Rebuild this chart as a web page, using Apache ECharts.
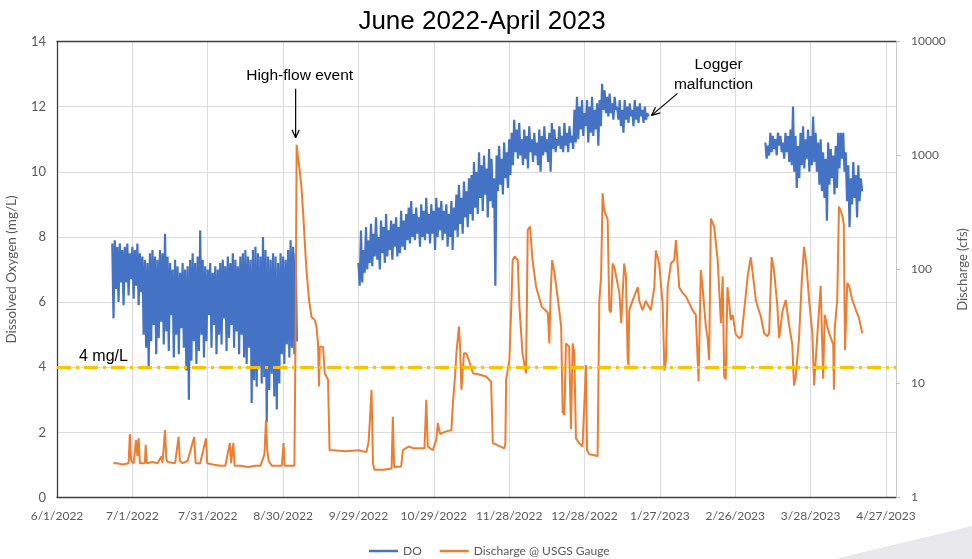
<!DOCTYPE html>
<html>
<head>
<meta charset="utf-8">
<script src="https://cdn.jsdelivr.net/npm/echarts/dist/echarts.min.js"></script>
<style>
  html, body { margin: 0; padding: 0; background: #fff; }
  #chart { width: 972px; height: 559px; }
</style>
</head>
<body>
<div id="chart"></div>
<script>
// Day 0 of the x axis is 6/1/2022; every x value below is a day offset from it.
const START_UTC = Date.UTC(2022, 5, 1);
const X_MAX_DAY = 334;
const X_TICK_DAYS = 30;

const doTicks = { min: 0, max: 14, step: 2 };
const flowTicks = { min: 1, max: 10000 };
const criterionDO = 4;

// Dissolved oxygen logger runs: daily high / low pairs (mg/L), half a day apart.
const doRunStartDays = [22, 120, 282];
const doRun1 = [
  7.8,5.5, 7.9,6.4, 7.7,6.0, 7.8,6.6, 7.6,5.9, 7.7,6.6, 7.8,6.2, 7.5,6.7,
  7.7,6.1, 7.6,6.5, 7.8,5.9, 7.5,6.3, 7.4,5.0, 7.3,4.6, 7.2,4.0, 7.5,4.8,
  7.6,5.3, 7.4,4.4, 7.3,4.9, 7.6,5.4, 7.5,4.7, 8.1,5.1, 7.4,4.5, 7.2,5.6,
  7.0,4.3, 7.3,5.0, 7.1,4.4, 6.9,5.2, 7.2,4.6, 7.0,3.9, 7.1,3.0, 7.3,4.2,
  7.5,4.8, 7.2,4.1, 7.4,4.5, 8.2,5.0, 7.3,4.3, 7.1,4.8, 7.0,5.6, 7.2,4.6,
  6.9,5.3, 7.1,4.4, 7.0,5.0, 7.2,4.7, 7.3,5.5, 7.1,4.5, 7.4,4.9, 7.2,5.3,
  7.5,4.6, 7.3,5.1, 7.1,4.4, 7.4,5.0, 7.5,4.3, 7.6,4.1, 7.4,4.6, 7.3,2.9,
  7.6,3.6, 7.7,3.4, 7.5,4.0, 7.4,3.5, 8.0,3.7, 7.6,2.3, 7.4,3.3, 7.3,3.8,
  7.5,3.1, 7.4,2.7, 7.2,3.5, 7.5,4.4, 7.4,4.1, 7.3,4.7, 7.6,4.3, 7.9,4.6,
  7.7,4.4, 7.5,4.8
];
const doRun2 = [
  7.2,6.5, 8.2,6.6, 7.6,6.9, 8.3,7.0, 7.9,7.2, 8.4,7.1, 8.1,7.4, 8.6,7.3,
  8.0,7.0, 8.5,7.5, 8.3,7.2, 8.7,7.4, 8.2,7.6, 8.5,7.3, 8.4,7.7, 8.6,7.4,
  8.3,7.5, 8.8,7.7, 8.5,7.6, 8.7,7.9, 8.9,7.8, 9.1,8.0, 8.7,7.9, 8.9,8.1,
  8.6,7.7, 9.0,8.0, 8.8,7.9, 9.2,8.1, 8.7,7.8, 9.0,8.1, 8.8,7.6, 9.2,8.0,
  8.9,8.2, 9.1,7.9, 8.8,8.1, 9.0,7.7, 8.7,8.0, 9.1,7.6, 8.9,8.2, 9.3,8.0,
  9.6,8.4, 9.2,8.1, 9.7,8.6, 9.4,8.3, 9.8,8.7, 9.9,8.5, 10.3,8.9, 10.0,8.7,
  10.6,9.2, 10.2,8.8, 10.5,9.3, 10.1,8.6, 10.7,9.1, 10.4,8.9, 9.8,6.5, 10.5,9.4,
  10.8,9.6, 10.4,9.3, 10.9,9.8, 10.6,9.5, 11.0,9.9, 11.2,10.2, 11.6,10.6, 11.3,10.4,
  11.5,10.5, 11.0,10.2, 11.3,10.4, 11.1,10.1, 11.4,10.6, 11.0,10.3, 11.2,10.5, 10.9,10.2,
  11.3,10.0, 11.1,10.5, 11.4,10.6, 11.0,10.3, 11.2,10.0, 11.5,10.7, 11.3,10.6, 11.0,10.8,
  11.4,10.7, 11.1,10.6, 11.5,10.8, 11.2,10.6, 11.4,10.9, 11.1,10.7, 11.9,10.9, 12.3,11.0,
  12.0,11.3, 12.2,11.1, 11.8,11.4, 12.2,10.9, 12.0,11.2, 12.3,11.1, 11.9,11.3, 12.1,10.8,
  12.2,11.4, 12.7,11.9, 12.5,11.8, 12.3,11.7, 12.4,11.8, 12.1,11.6, 12.3,11.9, 12.0,11.6,
  12.2,11.4, 11.9,11.2, 12.2,11.6, 12.0,11.5, 12.1,11.7, 11.9,11.4, 12.2,11.6, 12.0,11.5,
  12.1,11.7, 11.9,11.5, 12.0,11.6, 11.8,11.7
];
const doRun3 = [
  10.9,10.4, 10.8,10.5, 11.2,10.6, 11.1,10.7, 11.0,10.5, 11.2,10.8, 11.1,10.6, 10.9,10.4,
  11.2,10.6, 11.1,10.3, 11.3,10.2, 12.0,10.0, 11.1,9.5, 10.8,9.8, 11.2,10.2, 11.4,10.1,
  11.0,10.4, 11.3,10.0, 11.1,10.2, 11.7,10.3, 11.2,10.0, 10.9,9.6, 11.0,9.4, 10.6,9.2,
  10.4,8.5, 10.9,9.6, 10.7,9.8, 10.5,9.3, 10.8,9.5, 11.2,10.1, 11.2,10.4, 11.2,10.0,
  10.6,9.1, 10.2,8.3, 9.8,9.0, 10.3,9.2, 9.9,8.6, 10.2,9.1, 9.8,9.4
];

// USGS gauge discharge (cfs) at irregular day offsets.
const flowDays = [
  22.4, 24, 26, 28.5, 29.0, 29.5, 30.5, 31.5, 32, 32.5, 33, 35, 35.3, 35.8, 38, 40, 41.6, 42,
  43, 43.5, 44, 47, 48.4, 48.9, 50, 52, 54.6, 55.2, 57, 59.3, 59.8, 62, 65, 67, 68.8, 69.3,
  70.2, 70.7, 73, 76, 79, 81, 82.6, 83.2, 83.7, 84.3, 85.5, 87, 89.5, 90.2, 90.6, 93, 94.5,
  95.0, 95.4, 96.0, 96.6, 97.3, 98.0, 98.6, 99.3, 100.3, 101.3, 102.6, 103.3, 103.9, 104.3,
  104.6, 105.9, 106.6, 107.9, 108.5, 110, 115, 120, 123.1, 124.0, 124.5, 125.2, 125.8, 126.4,
  130, 133.2, 133.7, 134.2, 137, 137.7, 140, 142, 145, 146.3, 147.0, 147.6, 149.6, 151.0,
  151.6, 152.5, 153.6, 155, 157.0, 157.6, 158.5, 159.0, 160.0, 160.5, 161.0, 161.5, 162.0,
  162.9, 164, 165.6, 168, 170.8, 172.8, 173.5, 175, 178.1, 178.5, 178.8, 180.1, 181.0, 181.4,
  182.2, 183.4, 184.1, 185.3, 186.7, 187.1, 187.4, 188.3, 189.3, 190.7, 193, 195.4,
  196.0, 196.5, 197.1, 198.0, 199.4, 200.7, 201.3, 202.0, 202.6, 203.9, 204.6, 205.3, 205.9,
  206.6, 207.9, 209.2, 210.6, 211.0, 211.9, 214, 215.2, 215.9, 216.6, 217.2, 217.8, 219.2,
  219.9, 220.5, 221.2, 221.9, 222.6, 223.9, 224.6, 225.8, 226.5, 227.2, 227.5, 227.8, 229.1,
  231.2, 231.8, 233.1, 234.4, 236.4, 237.8, 238.4, 239.7, 241.1, 241.8, 242.4, 243.1, 244.4,
  245.7, 246.4, 247.7, 249.1, 250.4, 253.0, 254.3, 255.4, 256.3, 257.0, 258.3, 259.0, 259.6,
  260.3, 261.6, 263.0, 264.3, 265.0, 265.6, 266.2, 266.9, 267.5, 268.2, 269.0, 270.2, 270.9,
  271.6, 272.5, 274.2, 275, 276.2, 276.9, 278.2, 279.2, 280.2, 281.5, 282.8, 283.5, 284.5,
  285.4, 286.7, 287.5, 288.8, 290.1, 291.4, 292.7, 293.4, 294.0, 295.4, 296.5, 297.4, 298.4,
  299.4, 300.7, 301.4, 302.6, 304.0, 304.6, 305.0, 305.6, 306.6, 307.4, 309.0, 309.3, 309.6,
  310.6, 311.3, 312.6, 313.2, 313.7, 314.6, 315.3, 316.6, 317.9, 319.2, 320.6
];
const flowCfs = [
  2.0, 2.0, 1.95, 2.0, 3.6, 2.1, 2.0, 3.2, 2.3, 3.3, 2.0, 2.0, 2.9, 2.0, 2.05, 2.0, 2.3, 2.0,
  3.9, 2.2, 2.05, 2.0, 3.4, 2.1, 2.0, 2.1, 3.4, 2.0, 2.0, 3.3, 2.0, 1.95, 1.9, 1.9, 3.0, 2.0,
  3.0, 1.9, 1.9, 1.85, 1.9, 1.9, 2.4, 4.8, 2.6, 2.1, 1.9, 1.9, 1.9, 3.0, 1.9, 1.9, 1.9,
  30, 1240, 950, 746, 533, 311, 180, 99, 55, 38.5, 36, 31.6, 22.5, 9.4,
  21, 21, 12.3, 10.8, 2.6, 2.6, 2.55, 2.6, 2.5, 3.0, 4.5, 8.8, 2.0, 1.75,
  1.75, 1.8, 5.1, 1.85, 1.87, 2.6, 2.8, 2.7, 2.7, 2.7, 7.2, 2.8, 2.6, 3.2,
  4.5, 3.6, 3.7, 3.8, 3.9, 6.7, 12, 18.4, 31.6, 20, 8.8, 8.5, 18.4,
  18.4, 16, 12.3, 12, 11.5, 10.4, 3.0, 2.9, 2.7, 3.0, 10.8, 16.1, 60, 121,
  130, 121, 47, 18.4, 12.3, 60, 222, 238, 121, 71, 47, 42,
  22.5, 60, 121, 95, 55, 31.6, 5.6, 5.3, 22.5, 21, 4.0, 22.5, 19,
  3.3, 3.0, 2.8, 14.5, 2.6, 2.4, 2.35, 2.3, 53, 87, 466, 333, 275,
  44, 42, 113, 105, 87, 62, 34, 113, 87, 16.1, 14.5, 44, 53,
  70, 53, 44, 53, 44, 70, 147, 113, 50, 13, 16, 70, 113,
  121, 181, 70, 62, 58, 44, 40, 10.5, 99, 70, 31.6, 25, 16.1,
  280, 238, 121, 34, 87, 11.5, 10.9, 70, 54, 36, 40, 27, 26,
  25, 26, 60, 90, 128, 95, 54, 45, 38.7, 27.6, 26, 27.6, 128,
  100, 50, 25, 43, 54, 33, 22, 9.6, 11, 25, 80, 158, 106,
  54, 27.6, 9.6, 25, 72, 72, 11, 40, 32, 27.6, 22, 8.8, 30,
  54, 356, 300, 250, 19.7, 76, 72, 54, 45, 38, 27.6
];

// ---- assemble series data ----
const doData = [];
[doRun1, doRun2, doRun3].forEach((run, r) => {
  run.forEach((v, i) => doData.push([doRunStartDays[r] + i * 0.5, v]));
  doData.push([doRunStartDays[r] + run.length * 0.5, '-']);
});
const flowData = flowDays.map((d, i) => [d, flowCfs[i]]);

function dayLabel(v) {
  if (Math.abs(v % X_TICK_DAYS) > 1e-6) return '';
  const dt = new Date(START_UTC + v * 86400000);
  return (dt.getUTCMonth() + 1) + '/' + dt.getUTCDate() + '/' + dt.getUTCFullYear();
}

const AXIS_FONT = 'Lato, "Open Sans", sans-serif';
const ANNOT_FONT = '"Liberation Sans", Arial, sans-serif';
const axisGrey = '#595959';
const gridGrey = '#dcdcdc';

const chart = echarts.init(document.getElementById('chart'), null, { renderer: 'canvas' });

chart.setOption({
  animation: false,
  backgroundColor: '#ffffff',
  title: {
    text: 'June 2022-April 2023',
    left: 477, top: 4, textAlign: 'center',
    textStyle: { fontFamily: ANNOT_FONT, fontSize: 26, fontWeight: 'normal', color: '#000' }
  },
  grid: { left: 57, right: 76, top: 41.5, bottom: 61.5, containLabel: false, outerBoundsMode: 'none' },
  legend: {
    data: ['DO', 'Discharge @ USGS Gauge'],
    left: 364, top: 540,
    icon: 'rect', itemWidth: 29, itemHeight: 2.5, itemGap: 18,
    textStyle: { fontFamily: AXIS_FONT, fontSize: 12, color: axisGrey }
  },
  xAxis: [{
    type: 'value', min: 0, max: X_MAX_DAY, interval: X_TICK_DAYS,
    axisLine: { show: true, onZero: false, lineStyle: { color: '#404040', width: 1.3 } },
    axisTick: { show: false },
    splitLine: { show: true, lineStyle: { color: gridGrey, width: 1 } },
    axisLabel: {
      formatter: dayLabel, showMaxLabel: false, margin: 13,
      fontFamily: AXIS_FONT, fontSize: 12, color: axisGrey
    }
  }, {
    // plain top border of the plot
    type: 'value', position: 'top', min: 0, max: X_MAX_DAY, interval: X_TICK_DAYS,
    axisLine: { show: true, onZero: false, lineStyle: { color: '#404040', width: 1.3 } },
    axisTick: { show: false }, axisLabel: { show: false }, splitLine: { show: false }
  }],
  yAxis: [{
    type: 'value', position: 'left',
    min: doTicks.min, max: doTicks.max, interval: doTicks.step,
    name: 'Dissolved Oxygen (mg/L)', nameLocation: 'middle', nameGap: 38, nameRotate: 90,
    nameTextStyle: { fontFamily: AXIS_FONT, fontSize: 13.5, color: axisGrey },
    axisLine: { show: true, onZero: false, lineStyle: { color: '#404040', width: 1.3 } },
    axisTick: { show: false },
    splitLine: { show: true, lineStyle: { color: gridGrey, width: 1 } },
    axisLabel: { margin: 11, fontFamily: AXIS_FONT, fontSize: 13, color: axisGrey }
  }, {
    type: 'log', logBase: 10, position: 'right',
    min: flowTicks.min, max: flowTicks.max,
    name: 'Discharge (cfs)', nameLocation: 'middle', nameGap: 60, nameRotate: 90,
    nameTextStyle: { fontFamily: AXIS_FONT, fontSize: 13, color: axisGrey },
    axisLine: { show: true, onZero: false, lineStyle: { color: '#c8c8c8', width: 1 } },
    axisTick: { show: true, inside: false, length: 4, lineStyle: { color: '#bdbdbd' } },
    minorTick: { show: false },
    splitLine: { show: false },
    axisLabel: {
      margin: 15, fontFamily: AXIS_FONT, fontSize: 12, color: axisGrey,
      formatter: v => String(Math.round(v))
    }
  }],
  series: [{
    name: 'DO', type: 'line', xAxisIndex: 0, yAxisIndex: 0,
    data: doData, symbol: 'none', showSymbol: false, connectNulls: false,
    lineStyle: { color: '#4472C4', width: 2.2 }, itemStyle: { color: '#4472C4' },
    z: 2
  }, {
    name: 'Discharge @ USGS Gauge', type: 'line', xAxisIndex: 0, yAxisIndex: 1,
    data: flowData, symbol: 'none', showSymbol: false,
    lineStyle: { color: '#ED7D31', width: 2 }, itemStyle: { color: '#ED7D31' },
    z: 3
  }, {
    name: 'criterion', type: 'line', xAxisIndex: 0, yAxisIndex: 0, data: [],
    z: 4,
    markLine: {
      silent: true, symbol: ['none', 'none'],
      lineStyle: { color: '#FFC000', width: 3, type: [14, 5, 3, 5] },
      label: {
        show: true, position: 'insideStartTop', formatter: criterionDO + ' mg/L',
        fontFamily: ANNOT_FONT, fontSize: 16, color: '#000', distance: [22, 3]
      },
      data: [{ yAxis: criterionDO }]
    }
  }]
});

// ---- annotations anchored to data points ----
function arrow(x1, y1, x2, y2) {
  const ang = Math.atan2(y2 - y1, x2 - x1);
  const L = 9, spread = 0.42;
  const s = { stroke: '#000', lineWidth: 1.2 };
  return [
    { type: 'line', shape: { x1, y1, x2, y2 }, style: s, z: 20 },
    { type: 'line', shape: { x1: x2, y1: y2, x2: x2 - L * Math.cos(ang - spread), y2: y2 - L * Math.sin(ang - spread) }, style: s, z: 20 },
    { type: 'line', shape: { x1: x2, y1: y2, x2: x2 - L * Math.cos(ang + spread), y2: y2 - L * Math.sin(ang + spread) }, style: s, z: 20 }
  ];
}

let iPeak = 0;
flowCfs.forEach((v, i) => { if (v > flowCfs[iPeak]) iPeak = i; });
const peakPx = chart.convertToPixel({ xAxisIndex: 0, yAxisIndex: 1 }, [flowDays[iPeak], flowCfs[iPeak]]);
const lastRun2 = doRun2.length - 1;
const loggerPx = chart.convertToPixel({ xAxisIndex: 0, yAxisIndex: 0 },
  [doRunStartDays[1] + lastRun2 * 0.5, doRun2[lastRun2]]);

const textStyle = { fontFamily: ANNOT_FONT, fontSize: 15.5, fill: '#000' };
const graphics = [
  { type: 'polygon', shape: { points: [[835, 559], [972, 526], [972, 559]] },
    style: { fill: '#e7e7ec' }, z: -1, silent: true },
  { type: 'text', x: peakPx[0] + 3, y: peakPx[1] - 69,
    style: Object.assign({ text: 'High-flow event', align: 'center', verticalAlign: 'middle' }, textStyle), z: 20 },
  ...arrow(peakPx[0] - 1, peakPx[1] - 56, peakPx[0] - 1, peakPx[1] - 7),
  { type: 'text', x: loggerPx[0] + 70, y: loggerPx[1] - 52,
    style: Object.assign({ text: 'Logger', align: 'center', verticalAlign: 'middle' }, textStyle), z: 20 },
  { type: 'text', x: loggerPx[0] + 65, y: loggerPx[1] - 32,
    style: Object.assign({ text: 'malfunction', align: 'center', verticalAlign: 'middle' }, textStyle), z: 20 },
  ...arrow(loggerPx[0] + 29, loggerPx[1] - 23, loggerPx[0] + 3, loggerPx[1] - 1)
];
chart.setOption({ graphic: graphics });
</script>
</body>
</html>
